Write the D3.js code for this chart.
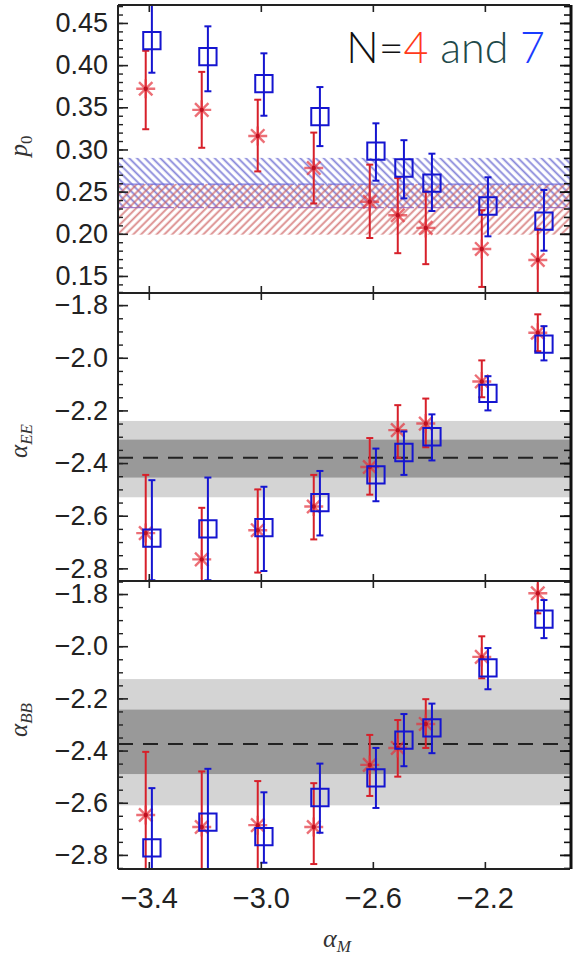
<!DOCTYPE html>
<html>
<head>
<meta charset="utf-8">
<script src="https://cdn.jsdelivr.net/npm/d3@7"></script>
<style>
  body { margin: 0; background: #fff; }
  svg { display: block; }
  .tick text { font-family: "Liberation Sans", Arial, sans-serif; fill: #222; }
</style>
</head>
<body>
<div id="chart"></div>
<script>
// alpha_M values where both runs were measured
const alphaM = [-3.4, -3.2, -3.0, -2.8, -2.6, -2.5, -2.4, -2.2, -2.0];

// p0 panel
const p0N4 = [0.372, 0.347, 0.316, 0.278, 0.238, 0.222, 0.207, 0.182, 0.169];
const p0N4Lo = [0.324, 0.302, 0.274, 0.236, 0.195, 0.177, 0.164, 0.137, 0.12];
const p0N4Hi = [0.417, 0.392, 0.359, 0.320, 0.282, 0.266, 0.250, 0.228, 0.206];
const p0N7 = [0.429, 0.410, 0.378, 0.339, 0.298, 0.278, 0.260, 0.233, 0.215];
const p0N7Lo = [0.391, 0.369, 0.340, 0.304, 0.263, 0.242, 0.227, 0.197, 0.180];
const p0N7Hi = [0.48, 0.446, 0.414, 0.374, 0.331, 0.311, 0.295, 0.267, 0.252];
const p0BandN7 = [0.231, 0.29];
const p0BandN4 = [0.199, 0.259];

// alpha_EE panel
const eeN4 = [-2.666, -2.766, -2.655, -2.565, -2.415, -2.275, -2.25, -2.09, -1.905];
const eeN4Lo = [-2.9, -2.9, -2.816, -2.69, -2.52, -2.38, -2.34, -2.15, -1.975];
const eeN4Hi = [-2.445, -2.57, -2.50, -2.445, -2.305, -2.18, -2.155, -2.01, -1.835];
const eeN7 = [-2.685, -2.65, -2.645, -2.55, -2.445, -2.36, -2.30, -2.135, -1.948];
const eeN7Lo = [-2.845, -2.845, -2.81, -2.675, -2.545, -2.445, -2.39, -2.20, -2.01];
const eeN7Hi = [-2.465, -2.455, -2.49, -2.43, -2.345, -2.28, -2.215, -2.07, -1.88];
const eeMid = -2.38;
const eeDark = [-2.455, -2.311];
const eeLight = [-2.53, -2.24];

// alpha_BB panel
const bbN4 = [-2.647, -2.693, -2.686, -2.693, -2.455, -2.39, -2.298, -2.041, -1.797];
const bbN4Lo = [-2.9, -2.9, -2.9, -2.835, -2.574, -2.50, -2.39, -2.123, -1.874];
const bbN4Hi = [-2.405, -2.48, -2.517, -2.525, -2.34, -2.283, -2.203, -1.962, -1.70];
const bbN7 = [-2.773, -2.674, -2.73, -2.58, -2.505, -2.36, -2.313, -2.083, -1.896];
const bbN7Lo = [-2.9, -2.9, -2.83, -2.715, -2.62, -2.46, -2.41, -2.165, -1.969];
const bbN7Hi = [-2.544, -2.47, -2.56, -2.45, -2.39, -2.26, -2.22, -2.007, -1.823];
const bbMid = -2.375;
const bbDark = [-2.49, -2.243];
const bbLight = [-2.61, -2.126];

// ticks
const xTicks = [-3.4, -3.0, -2.6, -2.2];
const p0Ticks = [0.15, 0.20, 0.25, 0.30, 0.35, 0.40, 0.45];
const p0Minor = d3.range(13, 48).map(d => d / 100);
const alphaTicks = [-2.8, -2.6, -2.4, -2.2, -2.0, -1.8];
const alphaMinor = d3.range(-285, -174, 5).map(d => d / 100);

const width = 575, height = 958;
const L = 118, R = 570;
const red = '#d7202a', blue = '#1515d0';

const svg = d3.select('#chart').append('svg')
    .attr('width', width)
    .attr('height', height);

const defs = svg.append('defs');

function hatch(id, color, angle) {
    const p = defs.append('pattern')
        .attr('id', id)
        .attr('patternUnits', 'userSpaceOnUse')
        .attr('width', 5.5)
        .attr('height', 10)
        .attr('patternTransform', `rotate(${angle})`);
    p.append('line')
        .attr('x1', 1.5).attr('x2', 1.5)
        .attr('y1', 0).attr('y2', 10)
        .attr('stroke', color)
        .attr('stroke-width', 1.8);
}
hatch('hatchBlue', 'rgba(95,95,205,0.75)', -45);
hatch('hatchRed', 'rgba(205,95,95,0.75)', 45);

const x = d3.scaleLinear().domain([-3.51, -1.896]).range([L, R]);

// asterisk with four strokes
const asterisk = {
    draw(ctx, size) {
        const r = Math.sqrt(size) / 2;
        for (let a = 0; a < 4; a++) {
            const t = a * Math.PI / 4;
            ctx.moveTo(-r * Math.cos(t), -r * Math.sin(t));
            ctx.lineTo(r * Math.cos(t), r * Math.sin(t));
        }
    }
};
const starPath = d3.symbol().type(asterisk).size(360)();
const squarePath = d3.symbol().type(d3.symbolSquare).size(300)();

const panels = [
    {
        top: 5, bottom: 293,
        domain: [0.1298, 0.4713],
        ticks: p0Ticks, minor: p0Minor, fmt: d3.format('.2f'),
        n4: [p0N4, p0N4Lo, p0N4Hi], n7: [p0N7, p0N7Lo, p0N7Hi],
        label: 'p', sub: '0', italicSub: false, labelY: 146
    },
    {
        top: 293, bottom: 581,
        domain: [-2.848, -1.754],
        ticks: alphaTicks, minor: alphaMinor, fmt: d3.format('.1f'),
        n4: [eeN4, eeN4Lo, eeN4Hi], n7: [eeN7, eeN7Lo, eeN7Hi],
        mid: eeMid, dark: eeDark, light: eeLight,
        label: 'α', sub: 'EE', italicSub: true, labelY: 441
    },
    {
        top: 581, bottom: 869,
        domain: [-2.854, -1.75],
        ticks: alphaTicks, minor: alphaMinor, fmt: d3.format('.1f'),
        n4: [bbN4, bbN4Lo, bbN4Hi], n7: [bbN7, bbN7Lo, bbN7Hi],
        mid: bbMid, dark: bbDark, light: bbLight,
        label: 'α', sub: 'BB', italicSub: true, labelY: 720
    }
];

panels.forEach((p, i) => {
    const y = d3.scaleLinear().domain(p.domain).range([p.bottom, p.top]);
    const clipId = `clip${i}`;
    defs.append('clipPath').attr('id', clipId)
        .append('rect')
        .attr('x', L).attr('y', p.top)
        .attr('width', R - L).attr('height', p.bottom - p.top);

    const g = svg.append('g').attr('clip-path', `url(#${clipId})`);

    if (i === 0) {
        // hatched confidence bands
        g.append('rect')
            .attr('x', L).attr('width', R - L)
            .attr('y', y(p0BandN7[1])).attr('height', y(p0BandN7[0]) - y(p0BandN7[1]))
            .attr('fill', 'url(#hatchBlue)');
        g.append('rect')
            .attr('x', L).attr('width', R - L)
            .attr('y', y(p0BandN4[1])).attr('height', y(p0BandN4[0]) - y(p0BandN4[1]))
            .attr('fill', 'url(#hatchRed)');
        g.append('line')
            .attr('x1', L).attr('x2', R)
            .attr('y1', y(p0BandN4[1])).attr('y2', y(p0BandN4[1]))
            .attr('stroke', 'rgba(100,100,220,0.8)').attr('stroke-width', 1.3)
            .attr('stroke-dasharray', '26,4');
        g.append('line')
            .attr('x1', L).attr('x2', R)
            .attr('y1', y(p0BandN7[0])).attr('y2', y(p0BandN7[0]))
            .attr('stroke', 'rgba(150,100,190,0.8)').attr('stroke-width', 1.3)
            .attr('stroke-dasharray', '26,4');
    } else {
        g.append('rect')
            .attr('x', L).attr('width', R - L)
            .attr('y', y(p.light[1])).attr('height', y(p.light[0]) - y(p.light[1]))
            .attr('fill', '#d4d4d4');
        g.append('rect')
            .attr('x', L).attr('width', R - L)
            .attr('y', y(p.dark[1])).attr('height', y(p.dark[0]) - y(p.dark[1]))
            .attr('fill', '#999999');
        g.append('line')
            .attr('x1', L).attr('x2', R)
            .attr('y1', y(p.mid)).attr('y2', y(p.mid))
            .attr('stroke', '#222').attr('stroke-width', 2)
            .attr('stroke-dasharray', '15,10');
    }

    function series(vals, color, offset, marker) {
        const [v, lo, hi] = vals;
        const pts = alphaM.map((a, k) => ({ x: x(a + offset), v: y(v[k]), lo: y(lo[k]), hi: y(hi[k]) }));
        const eg = g.append('g').attr('stroke', color).attr('stroke-width', 2);
        eg.selectAll('.bar').data(pts).join('line')
            .attr('x1', d => d.x).attr('x2', d => d.x)
            .attr('y1', d => d.lo).attr('y2', d => d.hi);
        eg.selectAll('.capLo').data(pts).join('line').attr('class', 'capLo')
            .attr('x1', d => d.x - 3.5).attr('x2', d => d.x + 3.5)
            .attr('y1', d => d.lo).attr('y2', d => d.lo);
        eg.selectAll('.capHi').data(pts).join('line').attr('class', 'capHi')
            .attr('x1', d => d.x - 3.5).attr('x2', d => d.x + 3.5)
            .attr('y1', d => d.hi).attr('y2', d => d.hi);
        if (marker === 'star') {
            g.append('g').selectAll('path').data(pts).join('path')
                .attr('d', starPath)
                .attr('transform', d => `translate(${d.x},${d.v})`)
                .attr('fill', 'none')
                .attr('stroke', 'rgba(228,50,60,0.7)')
                .attr('stroke-width', 2.4);
            g.append('g').selectAll('circle').data(pts).join('circle')
                .attr('cx', d => d.x).attr('cy', d => d.v).attr('r', 2.2)
                .attr('fill', '#c01020');
        } else {
            g.append('g').selectAll('path').data(pts).join('path')
                .attr('d', squarePath)
                .attr('transform', d => `translate(${d.x},${d.v})`)
                .attr('fill', 'none')
                .attr('stroke', blue)
                .attr('stroke-width', 2);
        }
    }
    series(p.n4, red, -0.011, 'star');
    series(p.n7, blue, 0.011, 'square');

    // axes
    const left = svg.append('g')
        .attr('transform', `translate(${L},0)`)
        .call(d3.axisLeft(y).tickValues(p.ticks).tickFormat(p.fmt)
            .tickSizeInner(-10).tickSizeOuter(0).tickPadding(10));
    left.select('.domain').remove();
    left.selectAll('.tick text').attr('font-size', 27);
    left.selectAll('.tick line').attr('stroke', '#222').attr('stroke-width', 1.6);

    const leftMinor = svg.append('g')
        .attr('transform', `translate(${L},0)`)
        .call(d3.axisLeft(y).tickValues(p.minor).tickFormat('').tickSizeInner(-5).tickSizeOuter(0));
    leftMinor.select('.domain').remove();
    leftMinor.selectAll('.tick line').attr('stroke', '#222').attr('stroke-width', 1.4);

    const right = svg.append('g')
        .attr('transform', `translate(${R},0)`)
        .call(d3.axisRight(y).tickValues(p.ticks).tickFormat('').tickSizeInner(-10).tickSizeOuter(0));
    right.select('.domain').remove();
    right.selectAll('.tick line').attr('stroke', '#111').attr('stroke-width', 1.8);

    const rightMinor = svg.append('g')
        .attr('transform', `translate(${R},0)`)
        .call(d3.axisRight(y).tickValues(p.minor).tickFormat('').tickSizeInner(-6).tickSizeOuter(0));
    rightMinor.select('.domain').remove();
    rightMinor.selectAll('.tick line').attr('stroke', '#111').attr('stroke-width', 1.6);

    const topAx = svg.append('g')
        .attr('transform', `translate(0,${p.top})`)
        .call(d3.axisTop(x).tickValues(xTicks).tickFormat('').tickSizeInner(-7).tickSizeOuter(0));
    topAx.select('.domain').remove();
    topAx.selectAll('.tick line').attr('stroke', '#222').attr('stroke-width', 1.6);

    const botAx = svg.append('g')
        .attr('transform', `translate(0,${p.bottom})`)
        .call(d3.axisBottom(x).tickValues(xTicks)
            .tickFormat(i === 2 ? d3.format('.1f') : '')
            .tickSizeInner(-7).tickSizeOuter(0).tickPadding(18));
    botAx.select('.domain').remove();
    botAx.selectAll('.tick line').attr('stroke', '#222').attr('stroke-width', 1.6);
    botAx.selectAll('.tick text').attr('font-size', 29);

    // panel frame
    svg.append('line').attr('x1', L).attr('x2', R).attr('y1', p.top).attr('y2', p.top)
        .attr('stroke', '#222').attr('stroke-width', 1.8);
    svg.append('line').attr('x1', L).attr('x2', R).attr('y1', p.bottom).attr('y2', p.bottom)
        .attr('stroke', '#222').attr('stroke-width', 1.8);

    // y label
    const lab = svg.append('text')
        .attr('transform', `translate(27,${p.labelY}) rotate(-90)`)
        .attr('text-anchor', 'middle')
        .attr('font-family', '"Liberation Serif", "DejaVu Serif", serif')
        .attr('font-size', 25)
        .attr('fill', '#333');
    lab.append('tspan').attr('font-style', 'italic').text(p.label);
    lab.append('tspan')
        .attr('font-style', p.italicSub ? 'italic' : 'normal')
        .attr('font-size', 17)
        .attr('dy', 5)
        .text(p.sub);
});

// frame sides
svg.append('line').attr('x1', L).attr('x2', L).attr('y1', 5).attr('y2', 869)
    .attr('stroke', '#222').attr('stroke-width', 2);
svg.append('line').attr('x1', R + 1).attr('x2', R + 1).attr('y1', 5).attr('y2', 869)
    .attr('stroke', '#111').attr('stroke-width', 3);

// x label
const xl = svg.append('text')
    .attr('x', 337).attr('y', 947)
    .attr('text-anchor', 'middle')
    .attr('font-family', '"Liberation Serif", "DejaVu Serif", serif')
    .attr('font-size', 26)
    .attr('fill', '#333');
xl.append('tspan').attr('font-style', 'italic').text('α');
xl.append('tspan').attr('font-style', 'italic').attr('font-size', 17).attr('dy', 5).text('M');

// legend
const leg = svg.append('text')
    .attr('x', 545).attr('y', 63)
    .attr('text-anchor', 'end')
    .attr('font-family', '"Helvetica Neue", "Lato", "Liberation Sans", sans-serif')
    .attr('font-weight', 300)
    .attr('font-size', 43);
leg.append('tspan').attr('fill', '#111').text('N=');
leg.append('tspan').attr('fill', '#ff3a1a').text('4');
leg.append('tspan').attr('fill', '#1f4a4a').text(' and ');
leg.append('tspan').attr('fill', '#1a3cff').text('7');
</script>
</body>
</html>
